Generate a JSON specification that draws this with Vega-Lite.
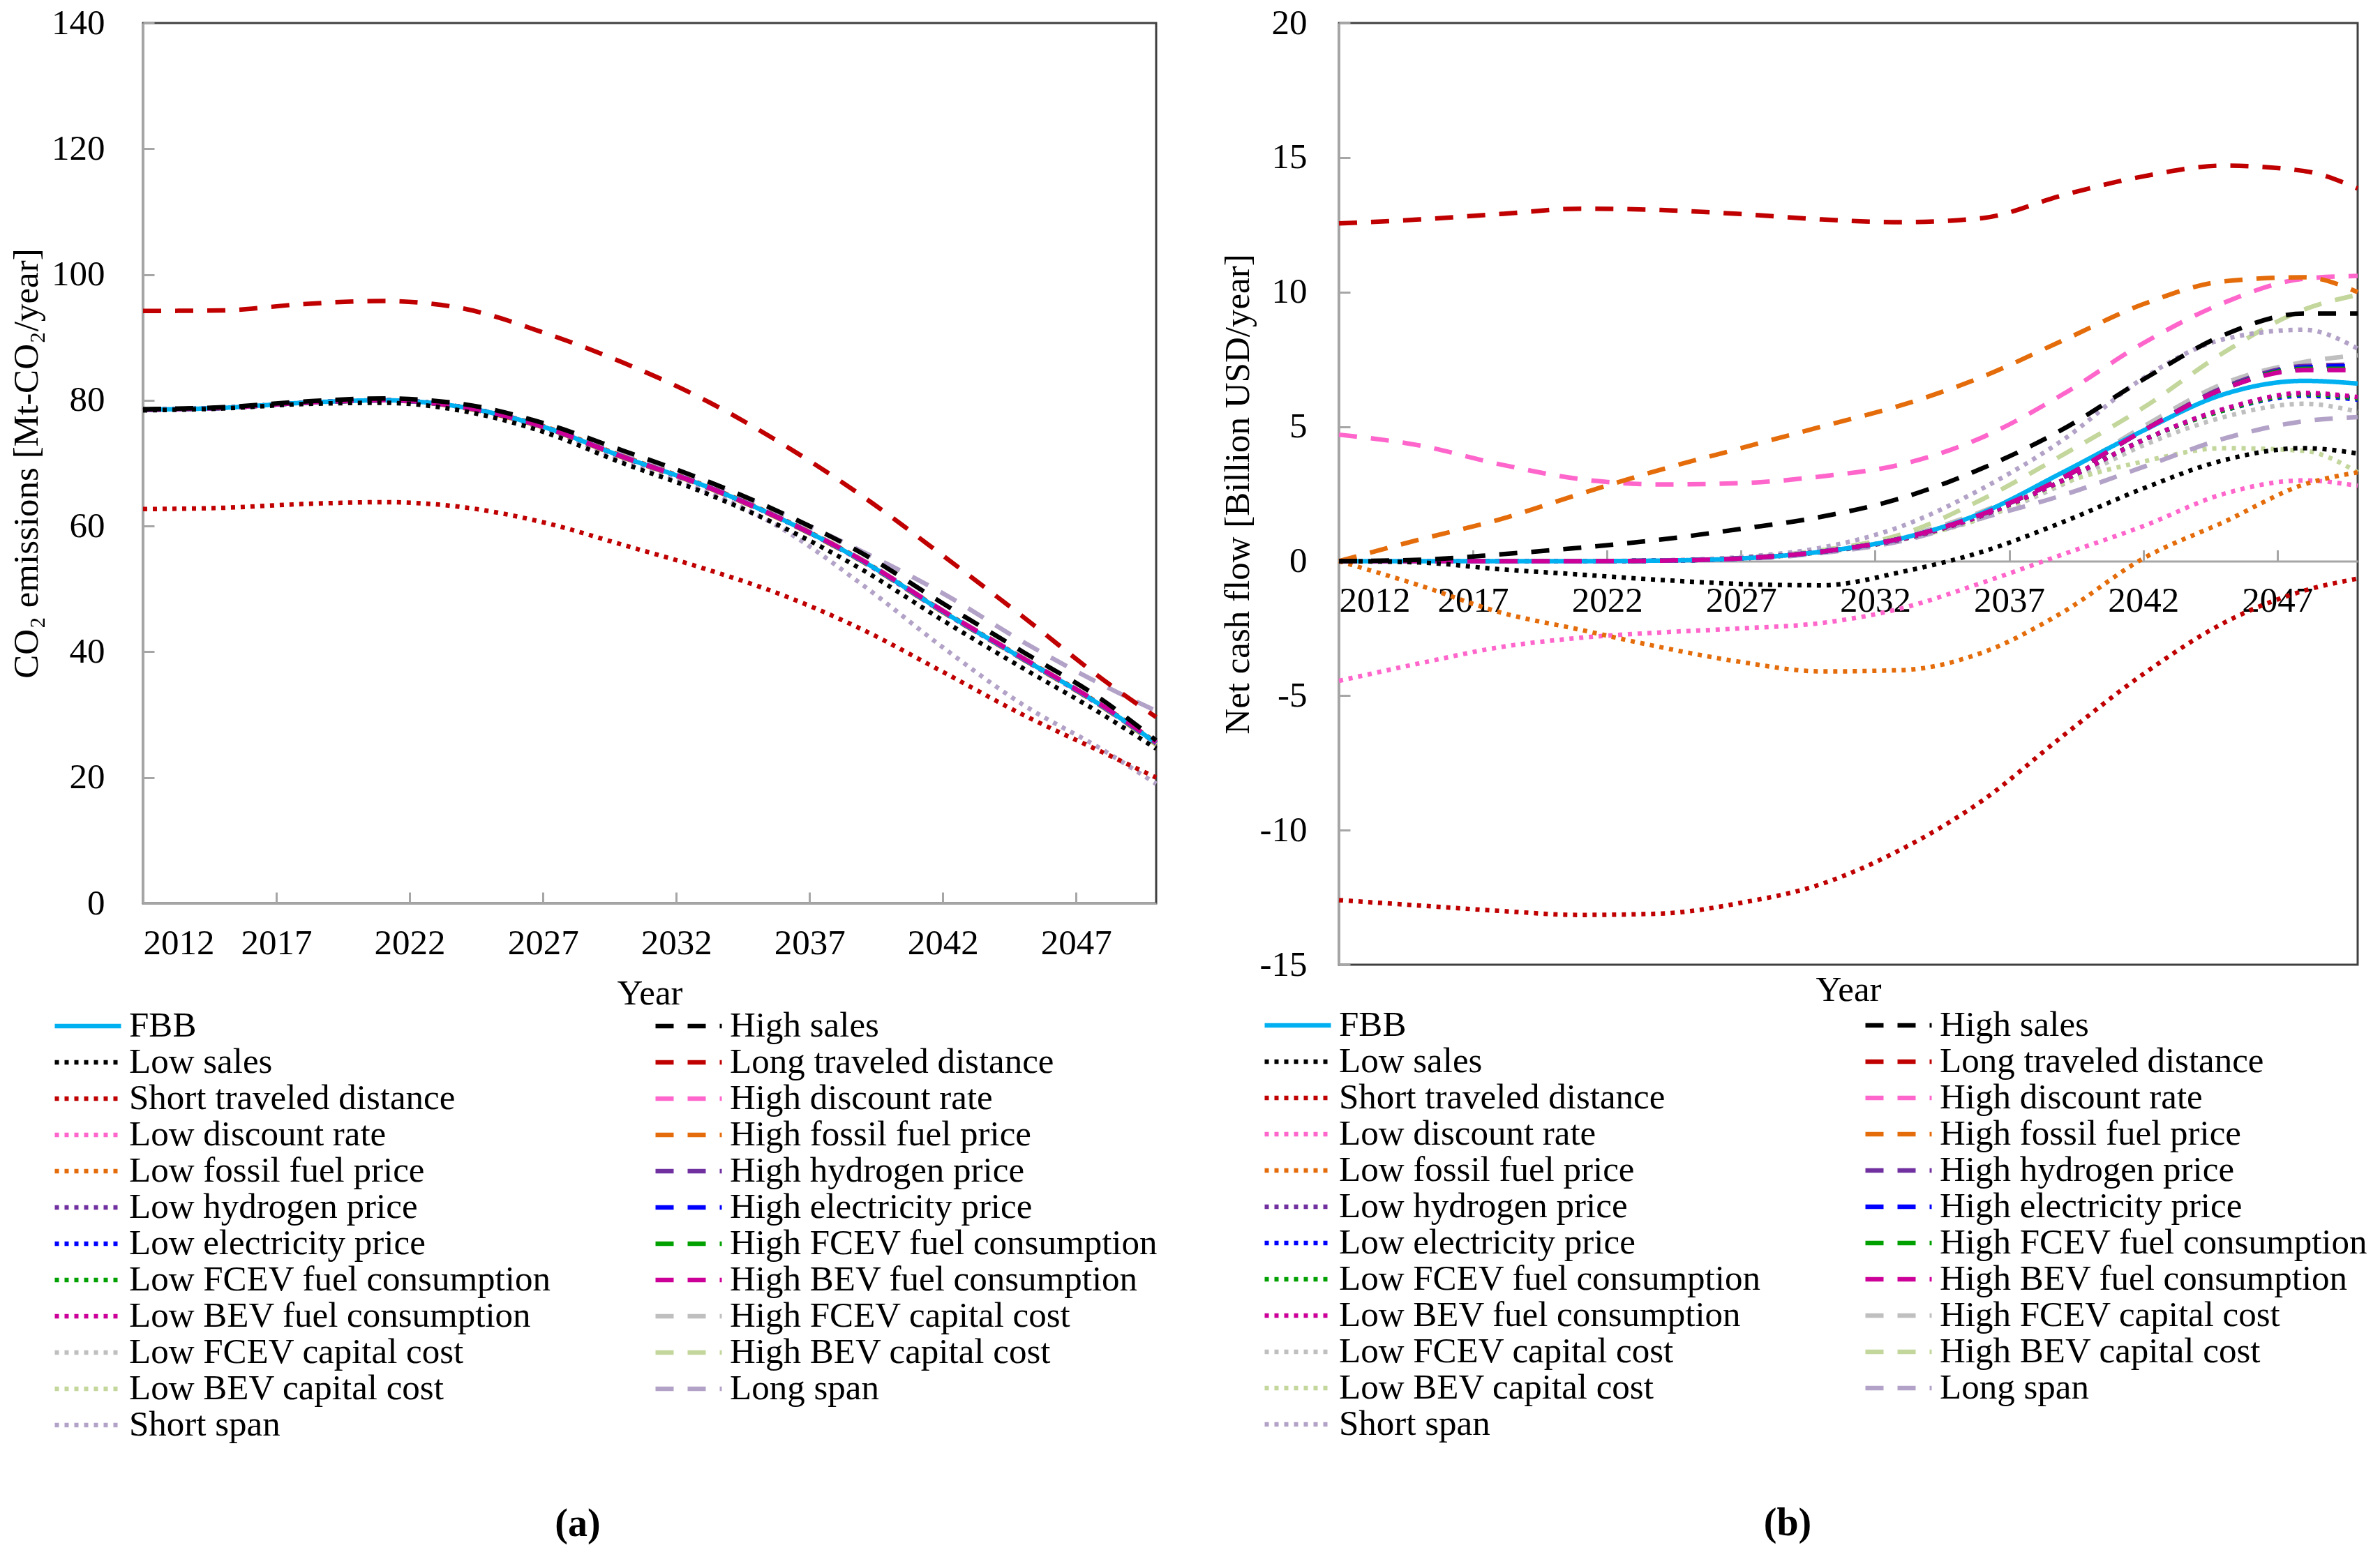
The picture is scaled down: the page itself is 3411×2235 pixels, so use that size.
{
"$schema":"https://vega.github.io/schema/vega-lite/v6.json",
"background":"white",
"padding":{"left":10,"top":5,"right":5,"bottom":5},
"autosize":{"type":"pad"},
"bounds":"flush",
"spacing":262,
"config":{
 "font":"Liberation Serif",
 "view":{"stroke":"#404040","strokeWidth":3},
 "axis":{"labelFont":"Liberation Serif","labelFontSize":51,"labelColor":"#000","titleFont":"Liberation Serif","titleFontSize":51,"titleFontWeight":"normal","titleColor":"#000","domainColor":"#A6A6A6","domainWidth":3,"tickColor":"#A6A6A6","tickWidth":3,"tickSize":-16,"grid":false},
 "legend":{"orient":"none","columns":2,"symbolType":"stroke","symbolSize":9025,"symbolStrokeWidth":6.5,"labelFont":"Liberation Serif","labelFontSize":51,"labelColor":"#000","labelLimit":1000,"labelOffset":8,"rowPadding":1,"columnPadding":146,"padding":0,"clipHeight":50},
 "line":{"strokeWidth":6.5,"interpolate":"monotone","clip":true}
},
"resolve":{"scale":{"color":"independent","strokeDash":"independent","x":"independent","y":"independent"}},
"datasets":{
"a":[
{"s":"Low FCEV capital cost","x":2012,"y":78.5},{"s":"Low FCEV capital cost","x":2015,"y":78.8},{"s":"Low FCEV capital cost","x":2018,"y":79.6},{"s":"Low FCEV capital cost","x":2021,"y":80.0},{"s":"Low FCEV capital cost","x":2024,"y":78.9},{"s":"Low FCEV capital cost","x":2027,"y":75.8},{"s":"Low FCEV capital cost","x":2030,"y":71.0},{"s":"Low FCEV capital cost","x":2033,"y":66.5},{"s":"Low FCEV capital cost","x":2036,"y":61.0},{"s":"Low FCEV capital cost","x":2039,"y":54.3},{"s":"Low FCEV capital cost","x":2042,"y":46.3},{"s":"Low FCEV capital cost","x":2045,"y":38.8},{"s":"Low FCEV capital cost","x":2048,"y":31.2},{"s":"Low FCEV capital cost","x":2050,"y":25.4},
{"s":"High FCEV capital cost","x":2012,"y":78.5},{"s":"High FCEV capital cost","x":2015,"y":78.8},{"s":"High FCEV capital cost","x":2018,"y":79.6},{"s":"High FCEV capital cost","x":2021,"y":80.0},{"s":"High FCEV capital cost","x":2024,"y":79.0},{"s":"High FCEV capital cost","x":2027,"y":75.9},{"s":"High FCEV capital cost","x":2030,"y":71.2},{"s":"High FCEV capital cost","x":2033,"y":66.7},{"s":"High FCEV capital cost","x":2036,"y":61.2},{"s":"High FCEV capital cost","x":2039,"y":54.6},{"s":"High FCEV capital cost","x":2042,"y":46.6},{"s":"High FCEV capital cost","x":2045,"y":39.1},{"s":"High FCEV capital cost","x":2048,"y":31.4},{"s":"High FCEV capital cost","x":2050,"y":25.5},
{"s":"Low BEV capital cost","x":2012,"y":78.5},{"s":"Low BEV capital cost","x":2015,"y":78.8},{"s":"Low BEV capital cost","x":2018,"y":79.6},{"s":"Low BEV capital cost","x":2021,"y":80.0},{"s":"Low BEV capital cost","x":2024,"y":78.9},{"s":"Low BEV capital cost","x":2027,"y":75.8},{"s":"Low BEV capital cost","x":2030,"y":71.0},{"s":"Low BEV capital cost","x":2033,"y":66.5},{"s":"Low BEV capital cost","x":2036,"y":61.0},{"s":"Low BEV capital cost","x":2039,"y":54.4},{"s":"Low BEV capital cost","x":2042,"y":46.4},{"s":"Low BEV capital cost","x":2045,"y":38.9},{"s":"Low BEV capital cost","x":2048,"y":31.3},{"s":"Low BEV capital cost","x":2050,"y":25.5},
{"s":"High BEV capital cost","x":2012,"y":78.5},{"s":"High BEV capital cost","x":2015,"y":78.8},{"s":"High BEV capital cost","x":2018,"y":79.6},{"s":"High BEV capital cost","x":2021,"y":80.0},{"s":"High BEV capital cost","x":2024,"y":78.9},{"s":"High BEV capital cost","x":2027,"y":75.8},{"s":"High BEV capital cost","x":2030,"y":71.0},{"s":"High BEV capital cost","x":2033,"y":66.5},{"s":"High BEV capital cost","x":2036,"y":61.0},{"s":"High BEV capital cost","x":2039,"y":54.5},{"s":"High BEV capital cost","x":2042,"y":46.4},{"s":"High BEV capital cost","x":2045,"y":38.9},{"s":"High BEV capital cost","x":2048,"y":31.2},{"s":"High BEV capital cost","x":2050,"y":25.2},
{"s":"Long span","x":2012,"y":78.5},{"s":"Long span","x":2015,"y":78.8},{"s":"Long span","x":2018,"y":79.6},{"s":"Long span","x":2021,"y":80.0},{"s":"Long span","x":2024,"y":79.0},{"s":"Long span","x":2027,"y":76.0},{"s":"Long span","x":2030,"y":71.3},{"s":"Long span","x":2033,"y":67.0},{"s":"Long span","x":2036,"y":61.9},{"s":"Long span","x":2039,"y":55.9},{"s":"Long span","x":2042,"y":49.3},{"s":"Long span","x":2045,"y":41.6},{"s":"Long span","x":2048,"y":34.7},{"s":"Long span","x":2050,"y":30.6},
{"s":"Short span","x":2012,"y":78.5},{"s":"Short span","x":2015,"y":78.8},{"s":"Short span","x":2018,"y":79.6},{"s":"Short span","x":2021,"y":80.0},{"s":"Short span","x":2024,"y":78.8},{"s":"Short span","x":2027,"y":75.5},{"s":"Short span","x":2030,"y":70.5},{"s":"Short span","x":2033,"y":65.8},{"s":"Short span","x":2036,"y":59.5},{"s":"Short span","x":2039,"y":50.6},{"s":"Short span","x":2042,"y":40.7},{"s":"Short span","x":2045,"y":31.6},{"s":"Short span","x":2048,"y":24.4},{"s":"Short span","x":2050,"y":19.0},
{"s":"High discount rate","x":2012,"y":78.5},{"s":"High discount rate","x":2015,"y":78.8},{"s":"High discount rate","x":2018,"y":79.6},{"s":"High discount rate","x":2021,"y":80.0},{"s":"High discount rate","x":2024,"y":78.9},{"s":"High discount rate","x":2027,"y":75.9},{"s":"High discount rate","x":2030,"y":71.1},{"s":"High discount rate","x":2033,"y":66.6},{"s":"High discount rate","x":2036,"y":61.1},{"s":"High discount rate","x":2039,"y":54.5},{"s":"High discount rate","x":2042,"y":46.5},{"s":"High discount rate","x":2045,"y":39.0},{"s":"High discount rate","x":2048,"y":31.3},{"s":"High discount rate","x":2050,"y":25.4},
{"s":"Low discount rate","x":2012,"y":78.5},{"s":"Low discount rate","x":2015,"y":78.8},{"s":"Low discount rate","x":2018,"y":79.6},{"s":"Low discount rate","x":2021,"y":80.0},{"s":"Low discount rate","x":2024,"y":78.9},{"s":"Low discount rate","x":2027,"y":75.8},{"s":"Low discount rate","x":2030,"y":71.0},{"s":"Low discount rate","x":2033,"y":66.5},{"s":"Low discount rate","x":2036,"y":61.0},{"s":"Low discount rate","x":2039,"y":54.3},{"s":"Low discount rate","x":2042,"y":46.3},{"s":"Low discount rate","x":2045,"y":38.8},{"s":"Low discount rate","x":2048,"y":31.2},{"s":"Low discount rate","x":2050,"y":25.5},
{"s":"High fossil fuel price","x":2012,"y":78.5},{"s":"High fossil fuel price","x":2015,"y":78.8},{"s":"High fossil fuel price","x":2018,"y":79.6},{"s":"High fossil fuel price","x":2021,"y":80.0},{"s":"High fossil fuel price","x":2024,"y":78.8},{"s":"High fossil fuel price","x":2027,"y":75.7},{"s":"High fossil fuel price","x":2030,"y":70.9},{"s":"High fossil fuel price","x":2033,"y":66.4},{"s":"High fossil fuel price","x":2036,"y":60.9},{"s":"High fossil fuel price","x":2039,"y":54.3},{"s":"High fossil fuel price","x":2042,"y":46.3},{"s":"High fossil fuel price","x":2045,"y":38.8},{"s":"High fossil fuel price","x":2048,"y":31.2},{"s":"High fossil fuel price","x":2050,"y":25.4},
{"s":"Low fossil fuel price","x":2012,"y":78.5},{"s":"Low fossil fuel price","x":2015,"y":78.8},{"s":"Low fossil fuel price","x":2018,"y":79.6},{"s":"Low fossil fuel price","x":2021,"y":80.0},{"s":"Low fossil fuel price","x":2024,"y":78.9},{"s":"Low fossil fuel price","x":2027,"y":75.9},{"s":"Low fossil fuel price","x":2030,"y":71.1},{"s":"Low fossil fuel price","x":2033,"y":66.6},{"s":"Low fossil fuel price","x":2036,"y":61.1},{"s":"Low fossil fuel price","x":2039,"y":54.5},{"s":"Low fossil fuel price","x":2042,"y":46.5},{"s":"Low fossil fuel price","x":2045,"y":39.0},{"s":"Low fossil fuel price","x":2048,"y":31.4},{"s":"Low fossil fuel price","x":2050,"y":25.6},
{"s":"High hydrogen price","x":2012,"y":78.5},{"s":"High hydrogen price","x":2015,"y":78.8},{"s":"High hydrogen price","x":2018,"y":79.6},{"s":"High hydrogen price","x":2021,"y":80.0},{"s":"High hydrogen price","x":2024,"y":78.9},{"s":"High hydrogen price","x":2027,"y":75.8},{"s":"High hydrogen price","x":2030,"y":71.0},{"s":"High hydrogen price","x":2033,"y":66.5},{"s":"High hydrogen price","x":2036,"y":61.0},{"s":"High hydrogen price","x":2039,"y":54.4},{"s":"High hydrogen price","x":2042,"y":46.4},{"s":"High hydrogen price","x":2045,"y":38.9},{"s":"High hydrogen price","x":2048,"y":31.3},{"s":"High hydrogen price","x":2050,"y":25.5},
{"s":"Low hydrogen price","x":2012,"y":78.5},{"s":"Low hydrogen price","x":2015,"y":78.8},{"s":"Low hydrogen price","x":2018,"y":79.6},{"s":"Low hydrogen price","x":2021,"y":80.0},{"s":"Low hydrogen price","x":2024,"y":78.9},{"s":"Low hydrogen price","x":2027,"y":75.8},{"s":"Low hydrogen price","x":2030,"y":71.0},{"s":"Low hydrogen price","x":2033,"y":66.5},{"s":"Low hydrogen price","x":2036,"y":61.0},{"s":"Low hydrogen price","x":2039,"y":54.4},{"s":"Low hydrogen price","x":2042,"y":46.4},{"s":"Low hydrogen price","x":2045,"y":38.9},{"s":"Low hydrogen price","x":2048,"y":31.3},{"s":"Low hydrogen price","x":2050,"y":25.5},
{"s":"High electricity price","x":2012,"y":78.5},{"s":"High electricity price","x":2015,"y":78.8},{"s":"High electricity price","x":2018,"y":79.6},{"s":"High electricity price","x":2021,"y":80.0},{"s":"High electricity price","x":2024,"y":78.9},{"s":"High electricity price","x":2027,"y":75.8},{"s":"High electricity price","x":2030,"y":71.0},{"s":"High electricity price","x":2033,"y":66.5},{"s":"High electricity price","x":2036,"y":61.0},{"s":"High electricity price","x":2039,"y":54.4},{"s":"High electricity price","x":2042,"y":46.4},{"s":"High electricity price","x":2045,"y":38.9},{"s":"High electricity price","x":2048,"y":31.3},{"s":"High electricity price","x":2050,"y":25.5},
{"s":"Low electricity price","x":2012,"y":78.5},{"s":"Low electricity price","x":2015,"y":78.8},{"s":"Low electricity price","x":2018,"y":79.6},{"s":"Low electricity price","x":2021,"y":80.0},{"s":"Low electricity price","x":2024,"y":78.9},{"s":"Low electricity price","x":2027,"y":75.8},{"s":"Low electricity price","x":2030,"y":71.0},{"s":"Low electricity price","x":2033,"y":66.5},{"s":"Low electricity price","x":2036,"y":61.0},{"s":"Low electricity price","x":2039,"y":54.4},{"s":"Low electricity price","x":2042,"y":46.4},{"s":"Low electricity price","x":2045,"y":38.9},{"s":"Low electricity price","x":2048,"y":31.3},{"s":"Low electricity price","x":2050,"y":25.5},
{"s":"High FCEV fuel consumption","x":2012,"y":78.5},{"s":"High FCEV fuel consumption","x":2015,"y":78.8},{"s":"High FCEV fuel consumption","x":2018,"y":79.6},{"s":"High FCEV fuel consumption","x":2021,"y":80.0},{"s":"High FCEV fuel consumption","x":2024,"y":78.9},{"s":"High FCEV fuel consumption","x":2027,"y":75.8},{"s":"High FCEV fuel consumption","x":2030,"y":71.0},{"s":"High FCEV fuel consumption","x":2033,"y":66.5},{"s":"High FCEV fuel consumption","x":2036,"y":61.0},{"s":"High FCEV fuel consumption","x":2039,"y":54.4},{"s":"High FCEV fuel consumption","x":2042,"y":46.4},{"s":"High FCEV fuel consumption","x":2045,"y":38.9},{"s":"High FCEV fuel consumption","x":2048,"y":31.3},{"s":"High FCEV fuel consumption","x":2050,"y":25.5},
{"s":"Low FCEV fuel consumption","x":2012,"y":78.5},{"s":"Low FCEV fuel consumption","x":2015,"y":78.8},{"s":"Low FCEV fuel consumption","x":2018,"y":79.6},{"s":"Low FCEV fuel consumption","x":2021,"y":80.0},{"s":"Low FCEV fuel consumption","x":2024,"y":78.9},{"s":"Low FCEV fuel consumption","x":2027,"y":75.8},{"s":"Low FCEV fuel consumption","x":2030,"y":71.0},{"s":"Low FCEV fuel consumption","x":2033,"y":66.5},{"s":"Low FCEV fuel consumption","x":2036,"y":61.0},{"s":"Low FCEV fuel consumption","x":2039,"y":54.4},{"s":"Low FCEV fuel consumption","x":2042,"y":46.4},{"s":"Low FCEV fuel consumption","x":2045,"y":38.9},{"s":"Low FCEV fuel consumption","x":2048,"y":31.3},{"s":"Low FCEV fuel consumption","x":2050,"y":25.5},
{"s":"Low BEV fuel consumption","x":2012,"y":78.5},{"s":"Low BEV fuel consumption","x":2015,"y":78.8},{"s":"Low BEV fuel consumption","x":2018,"y":79.6},{"s":"Low BEV fuel consumption","x":2021,"y":80.0},{"s":"Low BEV fuel consumption","x":2024,"y":78.9},{"s":"Low BEV fuel consumption","x":2027,"y":75.8},{"s":"Low BEV fuel consumption","x":2030,"y":71.0},{"s":"Low BEV fuel consumption","x":2033,"y":66.5},{"s":"Low BEV fuel consumption","x":2036,"y":61.0},{"s":"Low BEV fuel consumption","x":2039,"y":54.4},{"s":"Low BEV fuel consumption","x":2042,"y":46.4},{"s":"Low BEV fuel consumption","x":2045,"y":38.9},{"s":"Low BEV fuel consumption","x":2048,"y":31.3},{"s":"Low BEV fuel consumption","x":2050,"y":25.5},
{"s":"FBB","x":2012,"y":78.5},{"s":"FBB","x":2015,"y":78.8},{"s":"FBB","x":2018,"y":79.6},{"s":"FBB","x":2021,"y":80.0},{"s":"FBB","x":2024,"y":78.9},{"s":"FBB","x":2027,"y":75.8},{"s":"FBB","x":2030,"y":71.0},{"s":"FBB","x":2033,"y":66.5},{"s":"FBB","x":2036,"y":61.0},{"s":"FBB","x":2039,"y":54.4},{"s":"FBB","x":2042,"y":46.4},{"s":"FBB","x":2045,"y":38.9},{"s":"FBB","x":2048,"y":31.3},{"s":"FBB","x":2050,"y":25.5},
{"s":"High BEV fuel consumption","x":2012,"y":78.5},{"s":"High BEV fuel consumption","x":2015,"y":78.8},{"s":"High BEV fuel consumption","x":2018,"y":79.6},{"s":"High BEV fuel consumption","x":2021,"y":80.0},{"s":"High BEV fuel consumption","x":2024,"y":78.9},{"s":"High BEV fuel consumption","x":2027,"y":75.8},{"s":"High BEV fuel consumption","x":2030,"y":71.0},{"s":"High BEV fuel consumption","x":2033,"y":66.5},{"s":"High BEV fuel consumption","x":2036,"y":61.0},{"s":"High BEV fuel consumption","x":2039,"y":54.5},{"s":"High BEV fuel consumption","x":2042,"y":46.5},{"s":"High BEV fuel consumption","x":2045,"y":39.0},{"s":"High BEV fuel consumption","x":2048,"y":31.4},{"s":"High BEV fuel consumption","x":2050,"y":25.6},
{"s":"Low sales","x":2012,"y":78.4},{"s":"Low sales","x":2015,"y":78.7},{"s":"Low sales","x":2018,"y":79.4},{"s":"Low sales","x":2021,"y":79.6},{"s":"Low sales","x":2024,"y":78.3},{"s":"Low sales","x":2027,"y":75.0},{"s":"Low sales","x":2030,"y":70.0},{"s":"Low sales","x":2033,"y":65.4},{"s":"Low sales","x":2036,"y":59.8},{"s":"Low sales","x":2039,"y":53.0},{"s":"Low sales","x":2042,"y":45.0},{"s":"Low sales","x":2045,"y":37.4},{"s":"Low sales","x":2048,"y":30.0},{"s":"Low sales","x":2050,"y":24.6},
{"s":"High sales","x":2012,"y":78.6},{"s":"High sales","x":2015,"y":78.9},{"s":"High sales","x":2018,"y":79.8},{"s":"High sales","x":2021,"y":80.3},{"s":"High sales","x":2024,"y":79.4},{"s":"High sales","x":2027,"y":76.4},{"s":"High sales","x":2030,"y":72.0},{"s":"High sales","x":2033,"y":67.4},{"s":"High sales","x":2036,"y":62.0},{"s":"High sales","x":2039,"y":55.6},{"s":"High sales","x":2042,"y":47.7},{"s":"High sales","x":2045,"y":40.0},{"s":"High sales","x":2048,"y":32.3},{"s":"High sales","x":2050,"y":25.9},
{"s":"Short traveled distance","x":2012,"y":62.7},{"s":"Short traveled distance","x":2015,"y":62.9},{"s":"Short traveled distance","x":2018,"y":63.5},{"s":"Short traveled distance","x":2021,"y":63.8},{"s":"Short traveled distance","x":2024,"y":63.0},{"s":"Short traveled distance","x":2027,"y":60.6},{"s":"Short traveled distance","x":2030,"y":57.0},{"s":"Short traveled distance","x":2033,"y":53.3},{"s":"Short traveled distance","x":2036,"y":49.0},{"s":"Short traveled distance","x":2039,"y":43.5},{"s":"Short traveled distance","x":2042,"y":36.8},{"s":"Short traveled distance","x":2045,"y":30.0},{"s":"Short traveled distance","x":2048,"y":24.0},{"s":"Short traveled distance","x":2050,"y":20.0},
{"s":"Long traveled distance","x":2012,"y":94.2},{"s":"Long traveled distance","x":2015,"y":94.3},{"s":"Long traveled distance","x":2018,"y":95.3},{"s":"Long traveled distance","x":2021,"y":95.8},{"s":"Long traveled distance","x":2024,"y":94.6},{"s":"Long traveled distance","x":2027,"y":90.8},{"s":"Long traveled distance","x":2030,"y":86.0},{"s":"Long traveled distance","x":2033,"y":80.2},{"s":"Long traveled distance","x":2036,"y":73.0},{"s":"Long traveled distance","x":2039,"y":64.7},{"s":"Long traveled distance","x":2042,"y":55.3},{"s":"Long traveled distance","x":2045,"y":45.6},{"s":"Long traveled distance","x":2048,"y":35.6},{"s":"Long traveled distance","x":2050,"y":29.6}
],
"b":[
{"s":"Low FCEV capital cost","x":2012,"y":0},{"s":"Low FCEV capital cost","x":2015,"y":0},{"s":"Low FCEV capital cost","x":2018,"y":0},{"s":"Low FCEV capital cost","x":2021,"y":0},{"s":"Low FCEV capital cost","x":2024,"y":0.02},{"s":"Low FCEV capital cost","x":2027,"y":0.1},{"s":"Low FCEV capital cost","x":2030,"y":0.33},{"s":"Low FCEV capital cost","x":2033,"y":0.8},{"s":"Low FCEV capital cost","x":2036,"y":1.6},{"s":"Low FCEV capital cost","x":2039,"y":2.85},{"s":"Low FCEV capital cost","x":2042,"y":4.3},{"s":"Low FCEV capital cost","x":2045,"y":5.35},{"s":"Low FCEV capital cost","x":2048,"y":5.85},{"s":"Low FCEV capital cost","x":2050,"y":5.55},
{"s":"High FCEV capital cost","x":2012,"y":0},{"s":"High FCEV capital cost","x":2015,"y":0},{"s":"High FCEV capital cost","x":2018,"y":0},{"s":"High FCEV capital cost","x":2021,"y":0},{"s":"High FCEV capital cost","x":2024,"y":0.02},{"s":"High FCEV capital cost","x":2027,"y":0.12},{"s":"High FCEV capital cost","x":2030,"y":0.4},{"s":"High FCEV capital cost","x":2033,"y":0.9},{"s":"High FCEV capital cost","x":2036,"y":1.85},{"s":"High FCEV capital cost","x":2039,"y":3.2},{"s":"High FCEV capital cost","x":2042,"y":5.0},{"s":"High FCEV capital cost","x":2045,"y":6.6},{"s":"High FCEV capital cost","x":2048,"y":7.4},{"s":"High FCEV capital cost","x":2050,"y":7.65},
{"s":"Low BEV capital cost","x":2012,"y":0},{"s":"Low BEV capital cost","x":2015,"y":0},{"s":"Low BEV capital cost","x":2018,"y":0},{"s":"Low BEV capital cost","x":2021,"y":0},{"s":"Low BEV capital cost","x":2024,"y":0.02},{"s":"Low BEV capital cost","x":2027,"y":0.1},{"s":"Low BEV capital cost","x":2030,"y":0.33},{"s":"Low BEV capital cost","x":2033,"y":0.8},{"s":"Low BEV capital cost","x":2036,"y":1.6},{"s":"Low BEV capital cost","x":2039,"y":2.9},{"s":"Low BEV capital cost","x":2042,"y":3.7},{"s":"Low BEV capital cost","x":2045,"y":4.2},{"s":"Low BEV capital cost","x":2048,"y":4.1},{"s":"Low BEV capital cost","x":2050,"y":3.3},
{"s":"High BEV capital cost","x":2012,"y":0},{"s":"High BEV capital cost","x":2015,"y":0},{"s":"High BEV capital cost","x":2018,"y":0},{"s":"High BEV capital cost","x":2021,"y":0},{"s":"High BEV capital cost","x":2024,"y":0.02},{"s":"High BEV capital cost","x":2027,"y":0.1},{"s":"High BEV capital cost","x":2030,"y":0.4},{"s":"High BEV capital cost","x":2033,"y":1.0},{"s":"High BEV capital cost","x":2036,"y":2.3},{"s":"High BEV capital cost","x":2039,"y":3.95},{"s":"High BEV capital cost","x":2042,"y":5.7},{"s":"High BEV capital cost","x":2045,"y":7.75},{"s":"High BEV capital cost","x":2048,"y":9.35},{"s":"High BEV capital cost","x":2050,"y":9.9},
{"s":"Long span","x":2012,"y":0},{"s":"Long span","x":2015,"y":0},{"s":"Long span","x":2018,"y":0},{"s":"Long span","x":2021,"y":0},{"s":"Long span","x":2024,"y":0.02},{"s":"Long span","x":2027,"y":0.08},{"s":"Long span","x":2030,"y":0.3},{"s":"Long span","x":2033,"y":0.75},{"s":"Long span","x":2036,"y":1.6},{"s":"Long span","x":2039,"y":2.45},{"s":"Long span","x":2042,"y":3.5},{"s":"Long span","x":2045,"y":4.55},{"s":"Long span","x":2048,"y":5.2},{"s":"Long span","x":2050,"y":5.35},
{"s":"Short span","x":2012,"y":0},{"s":"Short span","x":2015,"y":0},{"s":"Short span","x":2018,"y":0},{"s":"Short span","x":2021,"y":0},{"s":"Short span","x":2024,"y":0.03},{"s":"Short span","x":2027,"y":0.15},{"s":"Short span","x":2030,"y":0.5},{"s":"Short span","x":2033,"y":1.3},{"s":"Short span","x":2036,"y":2.7},{"s":"Short span","x":2039,"y":4.5},{"s":"Short span","x":2042,"y":6.8},{"s":"Short span","x":2045,"y":8.25},{"s":"Short span","x":2048,"y":8.6},{"s":"Short span","x":2050,"y":7.9},
{"s":"High discount rate","x":2012,"y":4.7},{"s":"High discount rate","x":2015,"y":4.3},{"s":"High discount rate","x":2018,"y":3.6},{"s":"High discount rate","x":2021,"y":3.05},{"s":"High discount rate","x":2024,"y":2.85},{"s":"High discount rate","x":2027,"y":2.9},{"s":"High discount rate","x":2030,"y":3.15},{"s":"High discount rate","x":2033,"y":3.6},{"s":"High discount rate","x":2036,"y":4.6},{"s":"High discount rate","x":2039,"y":6.2},{"s":"High discount rate","x":2042,"y":8.1},{"s":"High discount rate","x":2045,"y":9.6},{"s":"High discount rate","x":2048,"y":10.5},{"s":"High discount rate","x":2050,"y":10.6},
{"s":"Low discount rate","x":2012,"y":-4.45},{"s":"Low discount rate","x":2015,"y":-3.8},{"s":"Low discount rate","x":2018,"y":-3.2},{"s":"Low discount rate","x":2021,"y":-2.85},{"s":"Low discount rate","x":2024,"y":-2.65},{"s":"Low discount rate","x":2027,"y":-2.5},{"s":"Low discount rate","x":2030,"y":-2.3},{"s":"Low discount rate","x":2033,"y":-1.75},{"s":"Low discount rate","x":2036,"y":-0.8},{"s":"Low discount rate","x":2039,"y":0.25},{"s":"Low discount rate","x":2042,"y":1.3},{"s":"Low discount rate","x":2045,"y":2.5},{"s":"Low discount rate","x":2048,"y":3.0},{"s":"Low discount rate","x":2050,"y":2.8},
{"s":"High fossil fuel price","x":2012,"y":0},{"s":"High fossil fuel price","x":2015,"y":0.8},{"s":"High fossil fuel price","x":2018,"y":1.55},{"s":"High fossil fuel price","x":2021,"y":2.5},{"s":"High fossil fuel price","x":2024,"y":3.4},{"s":"High fossil fuel price","x":2027,"y":4.2},{"s":"High fossil fuel price","x":2030,"y":5.0},{"s":"High fossil fuel price","x":2033,"y":5.8},{"s":"High fossil fuel price","x":2036,"y":6.85},{"s":"High fossil fuel price","x":2039,"y":8.2},{"s":"High fossil fuel price","x":2042,"y":9.55},{"s":"High fossil fuel price","x":2045,"y":10.4},{"s":"High fossil fuel price","x":2048,"y":10.55},{"s":"High fossil fuel price","x":2050,"y":10.0},
{"s":"Low fossil fuel price","x":2012,"y":0},{"s":"Low fossil fuel price","x":2015,"y":-0.9},{"s":"Low fossil fuel price","x":2018,"y":-1.9},{"s":"Low fossil fuel price","x":2021,"y":-2.55},{"s":"Low fossil fuel price","x":2024,"y":-3.2},{"s":"Low fossil fuel price","x":2027,"y":-3.75},{"s":"Low fossil fuel price","x":2030,"y":-4.1},{"s":"Low fossil fuel price","x":2033,"y":-4.05},{"s":"Low fossil fuel price","x":2036,"y":-3.4},{"s":"Low fossil fuel price","x":2039,"y":-1.9},{"s":"Low fossil fuel price","x":2042,"y":0.1},{"s":"Low fossil fuel price","x":2045,"y":1.45},{"s":"Low fossil fuel price","x":2048,"y":2.85},{"s":"Low fossil fuel price","x":2050,"y":3.3},
{"s":"High hydrogen price","x":2012,"y":0},{"s":"High hydrogen price","x":2015,"y":0},{"s":"High hydrogen price","x":2018,"y":0},{"s":"High hydrogen price","x":2021,"y":0},{"s":"High hydrogen price","x":2024,"y":0.02},{"s":"High hydrogen price","x":2027,"y":0.1},{"s":"High hydrogen price","x":2030,"y":0.35},{"s":"High hydrogen price","x":2033,"y":0.85},{"s":"High hydrogen price","x":2036,"y":1.75},{"s":"High hydrogen price","x":2039,"y":3.1},{"s":"High hydrogen price","x":2042,"y":4.85},{"s":"High hydrogen price","x":2045,"y":6.45},{"s":"High hydrogen price","x":2048,"y":7.25},{"s":"High hydrogen price","x":2050,"y":7.3},
{"s":"Low hydrogen price","x":2012,"y":0},{"s":"Low hydrogen price","x":2015,"y":0},{"s":"Low hydrogen price","x":2018,"y":0},{"s":"Low hydrogen price","x":2021,"y":0},{"s":"Low hydrogen price","x":2024,"y":0.02},{"s":"Low hydrogen price","x":2027,"y":0.1},{"s":"Low hydrogen price","x":2030,"y":0.35},{"s":"Low hydrogen price","x":2033,"y":0.82},{"s":"Low hydrogen price","x":2036,"y":1.7},{"s":"Low hydrogen price","x":2039,"y":3.0},{"s":"Low hydrogen price","x":2042,"y":4.5},{"s":"Low hydrogen price","x":2045,"y":5.65},{"s":"Low hydrogen price","x":2048,"y":6.2},{"s":"Low hydrogen price","x":2050,"y":6.05},
{"s":"High electricity price","x":2012,"y":0},{"s":"High electricity price","x":2015,"y":0},{"s":"High electricity price","x":2018,"y":0},{"s":"High electricity price","x":2021,"y":0},{"s":"High electricity price","x":2024,"y":0.02},{"s":"High electricity price","x":2027,"y":0.1},{"s":"High electricity price","x":2030,"y":0.35},{"s":"High electricity price","x":2033,"y":0.85},{"s":"High electricity price","x":2036,"y":1.75},{"s":"High electricity price","x":2039,"y":3.1},{"s":"High electricity price","x":2042,"y":4.85},{"s":"High electricity price","x":2045,"y":6.4},{"s":"High electricity price","x":2048,"y":7.2},{"s":"High electricity price","x":2050,"y":7.25},
{"s":"Low electricity price","x":2012,"y":0},{"s":"Low electricity price","x":2015,"y":0},{"s":"Low electricity price","x":2018,"y":0},{"s":"Low electricity price","x":2021,"y":0},{"s":"Low electricity price","x":2024,"y":0.02},{"s":"Low electricity price","x":2027,"y":0.1},{"s":"Low electricity price","x":2030,"y":0.35},{"s":"Low electricity price","x":2033,"y":0.82},{"s":"Low electricity price","x":2036,"y":1.7},{"s":"Low electricity price","x":2039,"y":3.0},{"s":"Low electricity price","x":2042,"y":4.5},{"s":"Low electricity price","x":2045,"y":5.6},{"s":"Low electricity price","x":2048,"y":6.15},{"s":"Low electricity price","x":2050,"y":6.0},
{"s":"High FCEV fuel consumption","x":2012,"y":0},{"s":"High FCEV fuel consumption","x":2015,"y":0},{"s":"High FCEV fuel consumption","x":2018,"y":0},{"s":"High FCEV fuel consumption","x":2021,"y":0},{"s":"High FCEV fuel consumption","x":2024,"y":0.02},{"s":"High FCEV fuel consumption","x":2027,"y":0.1},{"s":"High FCEV fuel consumption","x":2030,"y":0.35},{"s":"High FCEV fuel consumption","x":2033,"y":0.85},{"s":"High FCEV fuel consumption","x":2036,"y":1.75},{"s":"High FCEV fuel consumption","x":2039,"y":3.1},{"s":"High FCEV fuel consumption","x":2042,"y":4.85},{"s":"High FCEV fuel consumption","x":2045,"y":6.4},{"s":"High FCEV fuel consumption","x":2048,"y":7.15},{"s":"High FCEV fuel consumption","x":2050,"y":7.15},
{"s":"Low FCEV fuel consumption","x":2012,"y":0},{"s":"Low FCEV fuel consumption","x":2015,"y":0},{"s":"Low FCEV fuel consumption","x":2018,"y":0},{"s":"Low FCEV fuel consumption","x":2021,"y":0},{"s":"Low FCEV fuel consumption","x":2024,"y":0.02},{"s":"Low FCEV fuel consumption","x":2027,"y":0.1},{"s":"Low FCEV fuel consumption","x":2030,"y":0.35},{"s":"Low FCEV fuel consumption","x":2033,"y":0.82},{"s":"Low FCEV fuel consumption","x":2036,"y":1.7},{"s":"Low FCEV fuel consumption","x":2039,"y":3.0},{"s":"Low FCEV fuel consumption","x":2042,"y":4.5},{"s":"Low FCEV fuel consumption","x":2045,"y":5.6},{"s":"Low FCEV fuel consumption","x":2048,"y":6.2},{"s":"Low FCEV fuel consumption","x":2050,"y":6.05},
{"s":"Low BEV fuel consumption","x":2012,"y":0},{"s":"Low BEV fuel consumption","x":2015,"y":0},{"s":"Low BEV fuel consumption","x":2018,"y":0},{"s":"Low BEV fuel consumption","x":2021,"y":0},{"s":"Low BEV fuel consumption","x":2024,"y":0.02},{"s":"Low BEV fuel consumption","x":2027,"y":0.1},{"s":"Low BEV fuel consumption","x":2030,"y":0.35},{"s":"Low BEV fuel consumption","x":2033,"y":0.82},{"s":"Low BEV fuel consumption","x":2036,"y":1.7},{"s":"Low BEV fuel consumption","x":2039,"y":3.0},{"s":"Low BEV fuel consumption","x":2042,"y":4.5},{"s":"Low BEV fuel consumption","x":2045,"y":5.65},{"s":"Low BEV fuel consumption","x":2048,"y":6.25},{"s":"Low BEV fuel consumption","x":2050,"y":6.1},
{"s":"FBB","x":2012,"y":0},{"s":"FBB","x":2015,"y":0},{"s":"FBB","x":2018,"y":0},{"s":"FBB","x":2021,"y":0},{"s":"FBB","x":2024,"y":0.02},{"s":"FBB","x":2027,"y":0.1},{"s":"FBB","x":2030,"y":0.35},{"s":"FBB","x":2033,"y":0.85},{"s":"FBB","x":2036,"y":1.8},{"s":"FBB","x":2039,"y":3.3},{"s":"FBB","x":2042,"y":4.85},{"s":"FBB","x":2045,"y":6.2},{"s":"FBB","x":2048,"y":6.7},{"s":"FBB","x":2050,"y":6.6},
{"s":"High BEV fuel consumption","x":2012,"y":0},{"s":"High BEV fuel consumption","x":2015,"y":0},{"s":"High BEV fuel consumption","x":2018,"y":0},{"s":"High BEV fuel consumption","x":2021,"y":0},{"s":"High BEV fuel consumption","x":2024,"y":0.02},{"s":"High BEV fuel consumption","x":2027,"y":0.1},{"s":"High BEV fuel consumption","x":2030,"y":0.35},{"s":"High BEV fuel consumption","x":2033,"y":0.85},{"s":"High BEV fuel consumption","x":2036,"y":1.75},{"s":"High BEV fuel consumption","x":2039,"y":3.1},{"s":"High BEV fuel consumption","x":2042,"y":4.85},{"s":"High BEV fuel consumption","x":2045,"y":6.4},{"s":"High BEV fuel consumption","x":2048,"y":7.1},{"s":"High BEV fuel consumption","x":2050,"y":7.1},
{"s":"Low sales","x":2012,"y":0},{"s":"Low sales","x":2015,"y":-0.05},{"s":"Low sales","x":2018,"y":-0.3},{"s":"Low sales","x":2021,"y":-0.5},{"s":"Low sales","x":2024,"y":-0.7},{"s":"Low sales","x":2027,"y":-0.85},{"s":"Low sales","x":2030,"y":-0.9},{"s":"Low sales","x":2033,"y":-0.4},{"s":"Low sales","x":2036,"y":0.35},{"s":"Low sales","x":2039,"y":1.45},{"s":"Low sales","x":2042,"y":2.7},{"s":"Low sales","x":2045,"y":3.75},{"s":"Low sales","x":2048,"y":4.2},{"s":"Low sales","x":2050,"y":4.0},
{"s":"High sales","x":2012,"y":0},{"s":"High sales","x":2015,"y":0.05},{"s":"High sales","x":2018,"y":0.25},{"s":"High sales","x":2021,"y":0.5},{"s":"High sales","x":2024,"y":0.8},{"s":"High sales","x":2027,"y":1.2},{"s":"High sales","x":2030,"y":1.65},{"s":"High sales","x":2033,"y":2.35},{"s":"High sales","x":2036,"y":3.45},{"s":"High sales","x":2039,"y":4.9},{"s":"High sales","x":2042,"y":6.75},{"s":"High sales","x":2045,"y":8.4},{"s":"High sales","x":2048,"y":9.2},{"s":"High sales","x":2050,"y":9.2},
{"s":"Short traveled distance","x":2012,"y":-12.6},{"s":"Short traveled distance","x":2015,"y":-12.8},{"s":"Short traveled distance","x":2018,"y":-13.0},{"s":"Short traveled distance","x":2021,"y":-13.15},{"s":"Short traveled distance","x":2024,"y":-13.1},{"s":"Short traveled distance","x":2027,"y":-12.7},{"s":"Short traveled distance","x":2030,"y":-12.0},{"s":"Short traveled distance","x":2033,"y":-10.7},{"s":"Short traveled distance","x":2036,"y":-8.9},{"s":"Short traveled distance","x":2039,"y":-6.5},{"s":"Short traveled distance","x":2042,"y":-4.2},{"s":"Short traveled distance","x":2045,"y":-2.3},{"s":"Short traveled distance","x":2048,"y":-1.1},{"s":"Short traveled distance","x":2050,"y":-0.65},
{"s":"Long traveled distance","x":2012,"y":12.55},{"s":"Long traveled distance","x":2015,"y":12.7},{"s":"Long traveled distance","x":2018,"y":12.9},{"s":"Long traveled distance","x":2021,"y":13.1},{"s":"Long traveled distance","x":2024,"y":13.05},{"s":"Long traveled distance","x":2027,"y":12.9},{"s":"Long traveled distance","x":2030,"y":12.7},{"s":"Long traveled distance","x":2033,"y":12.6},{"s":"Long traveled distance","x":2036,"y":12.75},{"s":"Long traveled distance","x":2039,"y":13.6},{"s":"Long traveled distance","x":2042,"y":14.3},{"s":"Long traveled distance","x":2045,"y":14.7},{"s":"Long traveled distance","x":2048,"y":14.5},{"s":"Long traveled distance","x":2050,"y":13.85}
]
},
"hconcat":[
{
 "width":1452,"height":1262,
 "data":{"name":"a"},
 "title":{"text":"(a)","orient":"bottom","anchor":"middle","frame":"bounds","offset":90,"dx":-13,"fontSize":56,"fontWeight":"bold","font":"Liberation Serif","color":"#000"},
 "mark":{"type":"line"},
 "encoding":{
  "x":{"field":"x","type":"quantitative","scale":{"domain":[2012,2050],"nice":false,"zero":false},"axis":{"title":"Year","values":[2012,2017,2022,2027,2032,2037,2042,2047],"format":"d","labelPadding":48,"titleY":129,"titleBaseline":"middle"}},
  "y":{"field":"y","type":"quantitative","scale":{"domain":[0,140],"nice":false},"axis":{"title":"CO₂ emissions [Mt-CO₂/year]","values":[0,20,40,60,80,100,120,140],"labelPadding":71,"titleX":-167,"titleBaseline":"middle"}},
  "color":{"field":"s","type":"nominal","scale":{"domain":["FBB","Low sales","Short traveled distance","Low discount rate","Low fossil fuel price","Low hydrogen price","Low electricity price","Low FCEV fuel consumption","Low BEV fuel consumption","Low FCEV capital cost","Low BEV capital cost","Short span","High sales","Long traveled distance","High discount rate","High fossil fuel price","High hydrogen price","High electricity price","High FCEV fuel consumption","High BEV fuel consumption","High FCEV capital cost","High BEV capital cost","Long span"],"range":["#00B0F0","#000000","#C00000","#FF66CC","#E46C0A","#7030A0","#0000FF","#00A000","#CC0099","#BFBFBF","#C3D69B","#B3A2C7","#000000","#C00000","#FF66CC","#E46C0A","#7030A0","#0000FF","#00A000","#CC0099","#BFBFBF","#C3D69B","#B3A2C7"]},"legend":{"title":null,"legendX":-130,"legendY":1413}},
  "strokeDash":{"field":"s","type":"nominal","scale":{"domain":["FBB","Low sales","Short traveled distance","Low discount rate","Low fossil fuel price","Low hydrogen price","Low electricity price","Low FCEV fuel consumption","Low BEV fuel consumption","Low FCEV capital cost","Low BEV capital cost","Short span","High sales","Long traveled distance","High discount rate","High fossil fuel price","High hydrogen price","High electricity price","High FCEV fuel consumption","High BEV fuel consumption","High FCEV capital cost","High BEV capital cost","Long span"],"range":[[1,0],[6,8],[6,8],[6,8],[6,8],[6,8],[6,8],[6,8],[6,8],[6,8],[6,8],[6,8],[26,20],[26,20],[26,20],[26,20],[26,20],[26,20],[26,20],[26,20],[26,20],[26,20],[26,20]]},"legend":{"title":null,"legendX":-130,"legendY":1413}}
 }
},
{
 "width":1460,"height":1350,
 "data":{"name":"b"},
 "title":{"text":"(b)","orient":"bottom","anchor":"middle","frame":"bounds","offset":90,"dx":-9,"fontSize":56,"fontWeight":"bold","font":"Liberation Serif","color":"#000"},
 "mark":{"type":"line"},
 "encoding":{
  "x":{"field":"x","type":"quantitative","scale":{"domain":[2012,2050],"nice":false,"zero":false},"axis":{"title":"Year","values":[2012,2017,2022,2027,2032,2037,2042,2047],"format":"d","offset":-578.57,"labelPadding":48,"titleY":615,"titleBaseline":"middle"}},
  "y":{"field":"y","type":"quantitative","scale":{"domain":[-15,20],"nice":false,"zero":false},"axis":{"title":"Net cash flow [Billion USD/year]","values":[-15,-10,-5,0,5,10,15,20],"labelExpr":"toString(datum.value)","labelPadding":62,"titleX":-145,"titleBaseline":"middle"}},
  "color":{"field":"s","type":"nominal","scale":{"domain":["FBB","Low sales","Short traveled distance","Low discount rate","Low fossil fuel price","Low hydrogen price","Low electricity price","Low FCEV fuel consumption","Low BEV fuel consumption","Low FCEV capital cost","Low BEV capital cost","Short span","High sales","Long traveled distance","High discount rate","High fossil fuel price","High hydrogen price","High electricity price","High FCEV fuel consumption","High BEV fuel consumption","High FCEV capital cost","High BEV capital cost","Long span"],"range":["#00B0F0","#000000","#C00000","#FF66CC","#E46C0A","#7030A0","#0000FF","#00A000","#CC0099","#BFBFBF","#C3D69B","#B3A2C7","#000000","#C00000","#FF66CC","#E46C0A","#7030A0","#0000FF","#00A000","#CC0099","#BFBFBF","#C3D69B","#B3A2C7"]},"legend":{"title":null,"legendX":-110,"legendY":1412}},
  "strokeDash":{"field":"s","type":"nominal","scale":{"domain":["FBB","Low sales","Short traveled distance","Low discount rate","Low fossil fuel price","Low hydrogen price","Low electricity price","Low FCEV fuel consumption","Low BEV fuel consumption","Low FCEV capital cost","Low BEV capital cost","Short span","High sales","Long traveled distance","High discount rate","High fossil fuel price","High hydrogen price","High electricity price","High FCEV fuel consumption","High BEV fuel consumption","High FCEV capital cost","High BEV capital cost","Long span"],"range":[[1,0],[6,8],[6,8],[6,8],[6,8],[6,8],[6,8],[6,8],[6,8],[6,8],[6,8],[6,8],[26,20],[26,20],[26,20],[26,20],[26,20],[26,20],[26,20],[26,20],[26,20],[26,20],[26,20]]},"legend":{"title":null,"legendX":-110,"legendY":1412}}
 }
}
]
}
